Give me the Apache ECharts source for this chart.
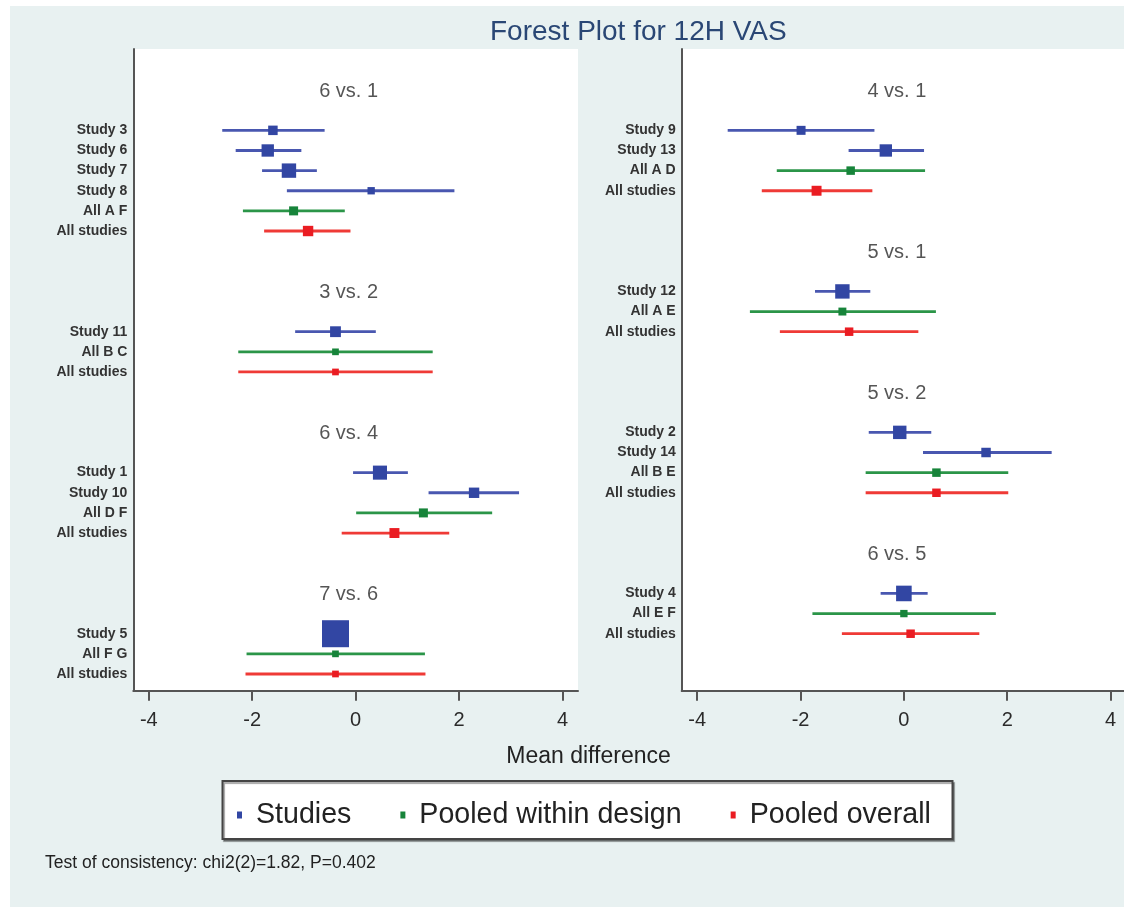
<!DOCTYPE html>
<html>
<head>
<meta charset="utf-8">
<script src="https://cdn.jsdelivr.net/npm/echarts@6/dist/echarts.min.js"></script>
<style>html,body{margin:0;padding:0;background:#fff}#c{width:1124px;height:907px}</style>
</head>
<body>
<div id="c"></div>
<script>
// ---------- data ----------
const xTicks = [-4, -2, 0, 2, 4];

// Left panel
const leftTitles = ['6 vs. 1', '3 vs. 2', '6 vs. 4', '7 vs. 6'];
const leftTitleRows = [0, 10, 17, 25];
const leftRows = [2, 3, 4, 5, 6, 7, 12, 13, 14, 19, 20, 21, 22, 27, 28, 29];
const leftNames = ['Study 3', 'Study 6', 'Study 7', 'Study 8', 'All A F', 'All studies', 'Study 11', 'All B C', 'All studies', 'Study 1', 'Study 10', 'All D F', 'All studies', 'Study 5', 'All F G', 'All studies'];
const leftKind = ['S', 'S', 'S', 'S', 'W', 'O', 'S', 'W', 'O', 'S', 'S', 'W', 'O', 'S', 'W', 'O'];
const leftEst = [-1.60, -1.70, -1.29, 0.30, -1.20, -0.92, -0.39, -0.39, -0.39, 0.47, 2.29, 1.31, 0.75, -0.39, -0.39, -0.39];
const leftLow = [-2.58, -2.32, -1.81, -1.33, -2.18, -1.77, -1.17, -2.27, -2.27, -0.05, 1.41, 0.01, -0.27, -0.55, -2.11, -2.13];
const leftHigh = [-0.60, -1.05, -0.75, 1.91, -0.21, -0.10, 0.39, 1.49, 1.49, 1.01, 3.16, 2.64, 1.81, -0.22, 1.34, 1.35];
const leftWeight = [10, 17, 23, 6, 9, 12, 13, 5, 5, 22, 12, 9, 11, 81, 5, 5];

// Right panel
const rightTitles = ['4 vs. 1', '5 vs. 1', '5 vs. 2', '6 vs. 5'];
const rightTitleRows = [0, 8, 15, 23];
const rightRows = [2, 3, 4, 5, 10, 11, 12, 17, 18, 19, 20, 25, 26, 27];
const rightNames = ['Study 9', 'Study 13', 'All A D', 'All studies', 'Study 12', 'All A E', 'All studies', 'Study 2', 'Study 14', 'All B E', 'All studies', 'Study 4', 'All E F', 'All studies'];
const rightKind = ['S', 'S', 'W', 'O', 'S', 'W', 'O', 'S', 'S', 'W', 'O', 'S', 'W', 'O'];
const rightEst = [-1.99, -0.35, -1.03, -1.69, -1.19, -1.19, -1.06, -0.08, 1.59, 0.63, 0.63, 0.00, 0.00, 0.13];
const rightLow = [-3.41, -1.07, -2.46, -2.75, -1.72, -2.98, -2.40, -0.68, 0.37, -0.74, -0.74, -0.45, -1.77, -1.20];
const rightHigh = [-0.57, 0.39, 0.41, -0.61, -0.65, 0.62, 0.28, 0.53, 2.86, 2.02, 2.02, 0.46, 1.78, 1.46];
const rightWeight = [9, 17, 8, 11, 23, 7, 8, 20, 10, 8, 8, 27, 6, 8];

const kindNames = { S: 'Studies', W: 'Pooled within design', O: 'Pooled overall' };
const kindMarker = { S: '#3246a3', W: '#17843a', O: '#ea1c22' };
const kindLine = { S: '#4957b0', W: '#2b9548', O: '#ef3a36' };

// ---------- build ----------
const FONT = '"Liberation Sans", Arial, sans-serif';

function renderItem(params, api) {
  const y = api.value(0), lo = api.value(1), es = api.value(2), hi = api.value(3), w = api.value(4);
  const sz = Math.sqrt(w) * 3;
  const p1 = api.coord([lo, y]);
  const p2 = api.coord([hi, y]);
  const pc = api.coord([es, y]);
  const k = params.seriesName;
  const kk = Object.keys(kindNames).find(t => kindNames[t] === k);
  return {
    type: 'group',
    children: [
      { type: 'line', shape: { x1: p1[0], y1: p1[1], x2: p2[0], y2: p2[1] }, style: { stroke: kindLine[kk], lineWidth: 2.8 } },
      { type: 'rect', shape: { x: pc[0] - sz / 2, y: pc[1] - sz / 2, width: sz, height: sz }, style: { fill: kindMarker[kk] } }
    ]
  };
}

function panelSeries(idx, rows, kinds, est, low, high, wt, titles, titleRows) {
  const out = [];
  ['S', 'W', 'O'].forEach(k => {
    const data = [];
    rows.forEach((r, i) => { if (kinds[i] === k) data.push([r, low[i], est[i], high[i], wt[i]]); });
    out.push({
      type: 'custom', name: kindNames[k], xAxisIndex: idx, yAxisIndex: idx,
      itemStyle: { color: kindMarker[k] },
      renderItem: renderItem, encode: { x: [1, 2, 3], y: 0 }, data: data, z: 3
    });
  });
  out.push({
    type: 'scatter', xAxisIndex: idx, yAxisIndex: idx, symbolSize: 0, silent: true,
    data: titles.map((t, i) => ({ name: t, value: [0, titleRows[i]] })),
    label: { show: true, position: 'inside', formatter: '{b}', fontSize: 20, color: '#2b2b2b', fontFamily: FONT, offset: [-7, 1] }
  });
  return out;
}

function labelMap(rows, names) { const m = {}; rows.forEach((r, i) => m[r] = names[i]); return m; }
const leftMap = labelMap(leftRows, leftNames);
const rightMap = labelMap(rightRows, rightNames);

function xAxisDef(idx, min, max) {
  return {
    type: 'value', gridIndex: idx, min: min, max: max,
    splitLine: { show: false },
    axisLine: { show: true, onZero: false, lineStyle: { color: '#555', width: 2 } },
    axisTick: { show: true, customValues: xTicks, length: 10, lineStyle: { color: '#555', width: 2 } },
    axisLabel: { show: true, customValues: xTicks, fontSize: 20, color: '#2b2b2b', fontFamily: FONT, margin: 20 }
  };
}
function yAxisDef(idx, rows, map) {
  return {
    type: 'value', gridIndex: idx, inverse: true, min: -2.04, max: 29.83,
    splitLine: { show: false },
    axisLine: { show: true, onZero: false, lineStyle: { color: '#555', width: 2 } },
    axisTick: { show: false },
    axisLabel: { show: true, customValues: rows, formatter: v => map[v] || '', fontSize: 14, fontWeight: 'bold', color: '#333', fontFamily: FONT, margin: 6 }
  };
}

const option = {
  backgroundColor: '#e8f1f1',
  animation: false,
  textStyle: { fontFamily: FONT },
  title: {
    text: 'Forest Plot for 12H VAS', left: 485, top: 13,
    textStyle: { fontSize: 28, fontWeight: 'normal', color: '#2a4775', fontFamily: FONT }
  },
  grid: [
    { left: 133.3, right: 1124 - 578, top: 49, bottom: 907 - 690.7, show: true, backgroundColor: '#fff', borderWidth: 0 },
    { left: 681.7, right: 0, top: 49, bottom: 907 - 690.7, show: true, backgroundColor: '#fff', borderWidth: 0 }
  ],
  xAxis: [xAxisDef(0, -4.3, 4.3), xAxisDef(1, -4.3, 4.26)],
  yAxis: [yAxisDef(0, leftRows, leftMap), yAxisDef(1, rightRows, rightMap)],
  legend: {
    data: ['Studies', 'Pooled within design', 'Pooled overall'],
    left: 232, top: 795, z: 10,
    icon: 'rect', itemWidth: 5, itemHeight: 7, itemGap: 49,
    selectedMode: false,
    textStyle: { fontSize: 28.6, color: '#222', fontFamily: FONT, padding: [0, 0, 0, 9], lineHeight: 30 }
  },
  graphic: [
    { type: 'rect', left: 0, top: 0, shape: { width: 1124, height: 6 }, style: { fill: '#fff' }, silent: true },
    { type: 'rect', left: 0, top: 0, shape: { width: 10, height: 907 }, style: { fill: '#fff' }, silent: true },
    { type: 'rect', z: 1, shape: { x: 222.5, y: 781, width: 730, height: 58 },
      style: { fill: '#fff', stroke: '#444', lineWidth: 2, shadowColor: 'rgba(0,0,0,0.35)', shadowOffsetX: 1.5, shadowOffsetY: 2, shadowBlur: 1 } },
    { type: 'text', z: 5, style: { x: 588.5, y: 757, text: 'Mean difference', textAlign: 'center', textVerticalAlign: 'middle', fontSize: 23, fill: '#222', fontFamily: FONT } },
    { type: 'text', z: 5, style: { x: 45, y: 863, text: 'Test of consistency: chi2(2)=1.82, P=0.402', textAlign: 'left', textVerticalAlign: 'middle', fontSize: 17.5, fill: '#222', fontFamily: FONT } }
  ],
  series: [].concat(
    panelSeries(0, leftRows, leftKind, leftEst, leftLow, leftHigh, leftWeight, leftTitles, leftTitleRows),
    panelSeries(1, rightRows, rightKind, rightEst, rightLow, rightHigh, rightWeight, rightTitles, rightTitleRows)
  )
};

const chart = echarts.init(document.getElementById('c'), null, { renderer: 'canvas' });
chart.setOption(option);
</script>
</body>
</html>
